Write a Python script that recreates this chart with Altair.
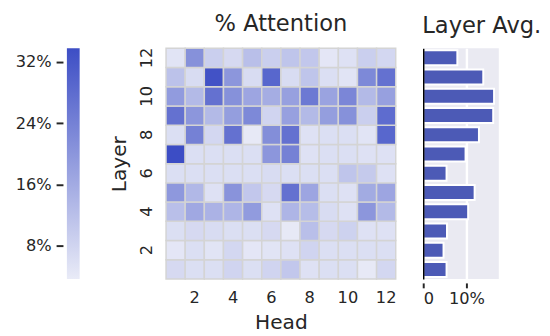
import altair as alt
import pandas as pd

heads = list(range(1, 13))
layers = list(range(1, 13))

# attention (%) per head, for each layer
layer_12 = [5.0, 21.0, 9.0, 7.0, 12.0, 9.0, 11.0, 10.5, 4.5, 5.5, 9.0, 7.5]
layer_11 = [11.5, 6.5, 33.0, 20.0, 6.5, 29.0, 6.5, 11.0, 6.0, 5.0, 22.5, 27.0]
layer_10 = [19.0, 13.0, 27.0, 21.0, 17.0, 15.5, 18.0, 25.5, 17.5, 23.0, 13.0, 18.0]
layer_9 = [27.0, 20.0, 13.0, 18.5, 22.5, 8.0, 18.0, 13.0, 18.5, 21.0, 9.0, 28.0]
layer_8 = [6.0, 24.0, 7.5, 27.0, 4.0, 21.5, 27.0, 5.5, 6.0, 6.0, 5.0, 29.0]
layer_7 = [34.0, 6.0, 6.0, 6.0, 6.0, 20.0, 24.0, 5.5, 6.0, 6.0, 5.5, 5.5]
layer_6 = [6.0, 6.0, 6.0, 6.0, 6.0, 6.5, 6.0, 6.0, 6.0, 11.0, 10.0, 5.5]
layer_5 = [19.5, 13.5, 5.5, 20.5, 10.5, 7.0, 27.0, 17.0, 6.0, 5.5, 16.0, 17.0]
layer_4 = [12.0, 16.5, 14.5, 14.0, 19.0, 5.5, 14.0, 12.5, 6.5, 5.5, 20.0, 13.0]
layer_3 = [6.0, 7.0, 6.5, 6.0, 6.0, 7.0, 4.0, 12.0, 7.0, 8.5, 5.5, 5.5]
layer_2 = [4.5, 6.0, 5.0, 7.5, 4.5, 5.0, 5.5, 8.0, 6.0, 6.0, 6.0, 6.0]
layer_1 = [7.0, 6.0, 6.0, 8.0, 6.0, 8.0, 10.5, 5.5, 6.0, 6.0, 4.0, 7.5]

rows = {1: layer_1, 2: layer_2, 3: layer_3, 4: layer_4, 5: layer_5, 6: layer_6,
        7: layer_7, 8: layer_8, 9: layer_9, 10: layer_10, 11: layer_11, 12: layer_12}

# layer average (%), layers 1..12
layer_avg = [5.4, 4.7, 5.5, 10.4, 11.9, 5.4, 9.8, 12.9, 16.2, 16.4, 13.9, 7.9]

cbar_min, cbar_max = 3.6, 33.8
cbar_ticks = [8, 16, 24, 32]
head_ticks = [2, 4, 6, 8, 10, 12]
layer_ticks = [2, 4, 6, 8, 10, 12]
bar_ticks = [0, 10]

FONT = "DejaVu Sans"
TXT = "#262626"
LIGHT = "#e9ebf7"
DARK = "#3d4ec5"
BAR = "#4c5ab6"

records = [{"head": h, "layer": l, "value": v}
           for l, row in rows.items() for h, v in zip(heads, row)]
heat_df = pd.DataFrame(records)

heat = alt.Chart(heat_df).mark_rect(stroke="#d4d4d4", strokeWidth=1.5).encode(
    x=alt.X("head:O", scale=alt.Scale(paddingInner=0, paddingOuter=0),
            axis=alt.Axis(title="Head", values=head_ticks, labelAngle=0, ticks=False,
                          tickSize=0, domain=False, labelPadding=11, titlePadding=7)),
    y=alt.Y("layer:O", sort="descending", scale=alt.Scale(paddingInner=0, paddingOuter=0),
            axis=alt.Axis(title="Layer", values=layer_ticks, labelAngle=270,
                          labelAlign="center", labelBaseline="bottom", ticks=False,
                          tickSize=0, domain=False, labelPadding=12, titlePadding=9)),
    color=alt.Color("value:Q", scale=alt.Scale(domain=[cbar_min, cbar_max],
                                               range=[LIGHT, DARK], interpolate="rgb"),
                    legend=None),
).properties(width=234, height=235, title=alt.TitleParams("% Attention", offset=11))

bar_df = pd.DataFrame({"layer": layers, "avg": layer_avg})
bars = alt.Chart(bar_df).mark_bar(color=BAR, stroke="white", strokeWidth=2).encode(
    x=alt.X("avg:Q", scale=alt.Scale(domain=[0, 17.5], nice=False),
            axis=alt.Axis(title=None, values=bar_ticks,
                          labelExpr="datum.value == 0 ? '0' : datum.value + '%'",
                          domain=False, tickColor=TXT, tickWidth=2, tickSize=5, offset=4,
                          labelPadding=3, grid=True, gridColor="white", gridWidth=2.5)),
    y=alt.Y("layer:O", sort="descending",
            scale=alt.Scale(paddingInner=0.22, paddingOuter=0.1),
            axis=alt.Axis(title=None, labels=False, ticks=False, domain=True,
                          domainColor="black", domainWidth=1.5, grid=False, zindex=1)),
).properties(width=77, height=235,
             view=alt.ViewBackground(fill="#eaeaf2", stroke=None),
             title=alt.TitleParams("Layer Avg.", anchor="start", offset=11))

cbar_df = pd.DataFrame({"lo": [cbar_min], "hi": [cbar_max]})
cbar = alt.Chart(cbar_df).mark_rect(
    fill=alt.Gradient(gradient="linear",
                      stops=[alt.GradientStop(color=LIGHT, offset=0),
                             alt.GradientStop(color=DARK, offset=1)],
                      x1=0, x2=0, y1=1, y2=0)
).encode(
    x=alt.value(0), x2=alt.value(13),
    y=alt.Y("lo:Q", scale=alt.Scale(domain=[cbar_min, cbar_max], nice=False, zero=False),
            axis=alt.Axis(title=None, values=cbar_ticks, labelExpr="datum.value + '%'",
                          domain=False, tickColor=TXT, tickWidth=2, tickSize=7, offset=4,
                          labelPadding=5, grid=False)),
    y2="hi:Q",
).properties(width=13, height=235)

chart = alt.hconcat(
    cbar, alt.hconcat(heat, bars, spacing=26), spacing=30
).properties(
    padding={"left": 7, "top": 2, "right": 0, "bottom": 0}
).configure(font=FONT).configure_axis(
    labelFont=FONT, titleFont=FONT, labelFontSize=16.5, titleFontSize=20.5,
    labelColor=TXT, titleColor=TXT, titleFontWeight="normal"
).configure_title(
    font=FONT, fontSize=23, color=TXT, fontWeight="normal"
).configure_view(stroke=None)

chart.save("out.html", embed_options={"renderer": "svg", "actions": False})
